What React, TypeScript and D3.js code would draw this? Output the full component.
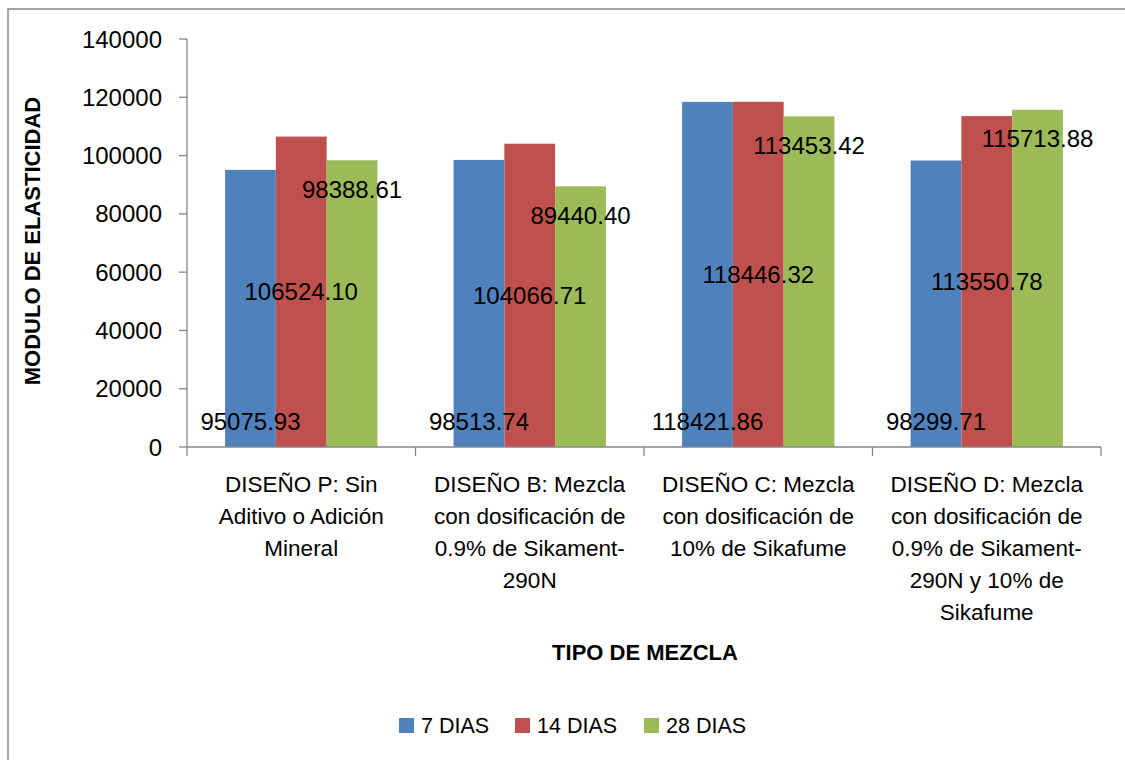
import React, { useEffect, useRef } from "react";
import * as d3 from "d3";

// chart data
const categories = ["P", "B", "C", "D"];
const categoryLines: string[][] = [
  ["DISEÑO P: Sin", "Aditivo o Adición", "Mineral"],
  ["DISEÑO B: Mezcla", "con dosificación de", "0.9% de Sikament-", "290N"],
  ["DISEÑO C: Mezcla", "con dosificación de", "10% de Sikafume"],
  ["DISEÑO D: Mezcla", "con dosificación de", "0.9% de Sikament-", "290N y 10% de", "Sikafume"],
];
const seriesNames = ["7 DIAS", "14 DIAS", "28 DIAS"];
const dias7 = [95075.93, 98513.74, 118421.86, 98299.71];
const dias14 = [106524.1, 104066.71, 118446.32, 113550.78];
const dias28 = [98388.61, 89440.4, 113453.42, 115713.88];
const yTicks = [0, 20000, 40000, 60000, 80000, 100000, 120000, 140000];

const colors = ["#4F81BD", "#C0504D", "#9BBB59"];
// where Excel put each series' data labels
const labelPos = ["base", "center", "end"];

const W = 1125;
const H = 760;
const margin = { left: 187, right: 24, top: 39, bottom: 313 };

const App: React.FC = () => {
  const svgRef = useRef<SVGSVGElement | null>(null);

  useEffect(() => {
    if (!svgRef.current) return;
    const svg = d3.select(svgRef.current);
    svg.selectAll("*").remove();

    const font = "'Liberation Sans', Arial, sans-serif";
    const x0 = margin.left;
    const x1 = W - margin.right;
    const yBottom = H - margin.bottom;
    const series = [dias7, dias14, dias28];

    // outer frame
    svg.append("rect")
      .attr("x", 8).attr("y", 9)
      .attr("width", W).attr("height", H)
      .attr("fill", "#fff")
      .attr("stroke", "#878787")
      .attr("stroke-width", 1.5);

    const x = d3.scaleBand<string>().domain(categories).range([x0, x1]).padding(0);
    const xs = d3.scaleBand<number>()
      .domain([0, 1, 2])
      .range([0, x.bandwidth()])
      .paddingInner(0)
      .paddingOuter(0.75);
    const y = d3.scaleLinear().domain([0, 140000]).range([yBottom, margin.top]);

    const g = svg.append("g");

    // bars
    series.forEach((vals, si) => {
      g.selectAll(`.bar${si}`)
        .data(vals)
        .enter()
        .append("rect")
        .attr("x", (_, i) => x(categories[i])! + xs(si)!)
        .attr("y", (d) => y(d))
        .attr("width", xs.bandwidth())
        .attr("height", (d) => y(0) - y(d))
        .attr("fill", colors[si]);
    });

    // axes
    const axisColor = "#868686";
    g.append("line")
      .attr("x1", x0).attr("x2", x0)
      .attr("y1", y(140000)).attr("y2", y(0))
      .attr("stroke", axisColor).attr("stroke-width", 1.3);
    g.append("line")
      .attr("x1", x0).attr("x2", x1)
      .attr("y1", y(0)).attr("y2", y(0))
      .attr("stroke", axisColor).attr("stroke-width", 1.3);

    g.selectAll(".ytick")
      .data(yTicks)
      .enter()
      .append("line")
      .attr("x1", x0 - 8).attr("x2", x0)
      .attr("y1", (d) => y(d)).attr("y2", (d) => y(d))
      .attr("stroke", axisColor).attr("stroke-width", 1.3);

    g.selectAll(".ylab")
      .data(yTicks)
      .enter()
      .append("text")
      .attr("x", 162)
      .attr("y", (d) => y(d))
      .attr("dy", "0.36em")
      .attr("text-anchor", "end")
      .style("font-family", font)
      .style("font-size", "24px")
      .attr("fill", "#000")
      .text((d) => String(d));

    const xTickPos = [...categories.map((c) => x(c)!), x1];
    g.selectAll(".xtick")
      .data(xTickPos)
      .enter()
      .append("line")
      .attr("x1", (d) => d).attr("x2", (d) => d)
      .attr("y1", y(0)).attr("y2", y(0) + 9)
      .attr("stroke", axisColor).attr("stroke-width", 1.3);

    // category labels
    categoryLines.forEach((lines, i) => {
      const cx = x(categories[i])! + x.bandwidth() / 2;
      const t = g.append("text")
        .attr("text-anchor", "middle")
        .style("font-family", font)
        .style("font-size", "22.5px")
        .attr("fill", "#000");
      lines.forEach((ln, li) => {
        t.append("tspan").attr("x", cx).attr("y", 492 + li * 32).text(ln);
      });
    });

    // data labels
    series.forEach((vals, si) => {
      g.selectAll(`.lab${si}`)
        .data(vals)
        .enter()
        .append("text")
        .attr("x", (_, i) => x(categories[i])! + xs(si)! + xs.bandwidth() / 2)
        .attr("y", (d) => {
          if (labelPos[si] === "base") return y(0) - 26;
          if (labelPos[si] === "center") return (y(0) + y(d)) / 2;
          return y(d) + 29;
        })
        .attr("dy", "0.36em")
        .attr("text-anchor", "middle")
        .style("font-family", font)
        .style("font-size", "24px")
        .attr("fill", "#000")
        .text((d) => d.toFixed(2));
    });

    // axis titles
    g.append("text")
      .attr("x", 645).attr("y", 652)
      .attr("dy", "0.36em")
      .attr("text-anchor", "middle")
      .style("font-family", font)
      .style("font-size", "22px")
      .style("font-weight", "bold")
      .text("TIPO DE MEZCLA");
    g.append("text")
      .attr("transform", "translate(32,241) rotate(-90)")
      .attr("dy", "0.36em")
      .attr("text-anchor", "middle")
      .style("font-family", font)
      .style("font-size", "22px")
      .style("font-weight", "bold")
      .text("MODULO DE ELASTICIDAD");

    // legend
    const legendX = [399, 515, 644];
    seriesNames.forEach((name, i) => {
      g.append("rect")
        .attr("x", legendX[i]).attr("y", 718)
        .attr("width", 15).attr("height", 15)
        .attr("fill", colors[i]);
      g.append("text")
        .attr("x", legendX[i] + 22).attr("y", 725.5)
        .attr("dy", "0.36em")
        .style("font-family", font)
        .style("font-size", "21.5px")
        .attr("fill", "#000")
        .text(name);
    });
  }, []);

  return (
    <svg
      ref={svgRef}
      width={W}
      height={H}
      style={{ position: "absolute", left: 0, top: 0, background: "#fff" }}
    />
  );
};

export default App;
